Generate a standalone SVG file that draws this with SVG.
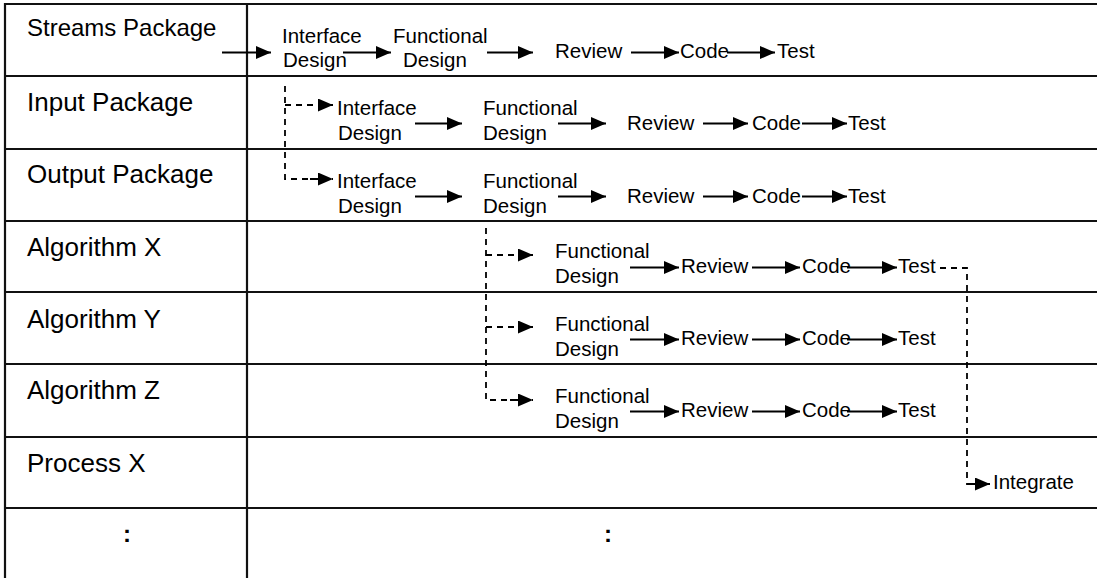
<svg xmlns="http://www.w3.org/2000/svg" width="1097" height="578" viewBox="0 0 1097 578">
<defs>
<style>
.grid{stroke:#111;stroke-width:2.2;fill:none}
.lbl{font-family:"Liberation Sans",Arial,sans-serif;font-size:26px;fill:#000}
.t{font-family:"Liberation Sans",Arial,sans-serif;font-size:20.5px;fill:#000}
.c{stroke:#000;stroke-width:2;fill:none;marker-end:url(#ah)}
.d{stroke:#000;stroke-width:1.8;fill:none;stroke-dasharray:6 5}
.da{stroke:#000;stroke-width:1.8;fill:none;stroke-dasharray:6 5;marker-end:url(#ah)}
.colon{font-family:"Liberation Sans",Arial,sans-serif;font-size:24px;font-weight:bold;fill:#000;text-anchor:middle}
</style>
<marker id="ah" markerUnits="userSpaceOnUse" markerWidth="16" markerHeight="14" refX="15" refY="6.5" orient="auto">
<path d="M0,0 L15,6.5 L0,13 Z" fill="#000"/>
</marker>
</defs>
<rect width="1097" height="578" fill="#fff"/>
<g id="grid" class="grid">
<path d="M4,4 H1097 M4,76 H1097 M4,149 H1097 M4,221 H1097 M4,292 H1097 M4,364 H1097 M4,437 H1097 M4,508 H1097"/>
<path d="M5,3 V578 M247,3 V578"/>
</g>
<g id="row-labels">
<g id="lbl-streams"><text class="lbl" x="27" y="36" style="font-size:24px">Streams Package</text></g>
<g id="lbl-input"><text class="lbl" x="27" y="111">Input Package</text></g>
<g id="lbl-output"><text class="lbl" x="27" y="183">Output Package</text></g>
<g id="lbl-algx"><text class="lbl" x="27" y="256">Algorithm X</text></g>
<g id="lbl-algy"><text class="lbl" x="27" y="328">Algorithm Y</text></g>
<g id="lbl-algz"><text class="lbl" x="27" y="399">Algorithm Z</text></g>
<g id="lbl-procx"><text class="lbl" x="27" y="472">Process X</text></g>
<g id="lbl-more"><text class="colon" x="127" y="542">:</text></g>
<g id="more"><text class="colon" x="608" y="542">:</text></g>
</g>
<g id="connectors">
<path class="c" d="M222,52.5 H271"/>
<path class="c" d="M343,52.5 H391"/>
<path class="c" d="M487,52.5 H533"/>
<path class="c" d="M631,52.5 H679"/>
<path class="c" d="M727,52.5 H775"/>
<path class="d" d="M285,86 V179 H318"/>
<path class="da" d="M285,105 H333"/>
<path class="da" d="M310,179 H333"/>
<path class="c" d="M415,123.5 H462"/>
<path class="c" d="M558,123.5 H606"/>
<path class="c" d="M703,123.5 H748"/>
<path class="c" d="M802,123.5 H847"/>
<path class="c" d="M415,196.5 H462"/>
<path class="c" d="M558,196.5 H606"/>
<path class="c" d="M703,196.5 H748"/>
<path class="c" d="M802,196.5 H847"/>
<path class="d" d="M486,228 V400 H518"/>
<path class="da" d="M486,255 H533"/>
<path class="da" d="M486,327 H533"/>
<path class="da" d="M510,400 H533"/>
<path class="c" d="M630,267.5 H679"/>
<path class="c" d="M752,267.5 H800"/>
<path class="c" d="M847,267.5 H897"/>
<path class="c" d="M630,339.5 H679"/>
<path class="c" d="M752,339.5 H800"/>
<path class="c" d="M847,339.5 H897"/>
<path class="c" d="M630,411.5 H679"/>
<path class="c" d="M752,411.5 H800"/>
<path class="c" d="M847,411.5 H897"/>
<path class="d" d="M940,268 H967 V484 H975"/>
<path class="c" d="M972,484 H990"/>
</g>
<g id="streams-steps">
<g id="s-if"><text class="t" x="282" y="43">Interface</text><text class="t" x="283" y="67">Design</text></g>
<g id="s-fd"><text class="t" x="393" y="43">Functional</text><text class="t" x="403" y="67">Design</text></g>
<g id="s-rv"><text class="t" x="555" y="58">Review</text></g>
<g id="s-cd"><text class="t" x="680" y="58">Code</text></g>
<g id="s-ts"><text class="t" x="777" y="58">Test</text></g>
</g>
<g id="input-steps">
<g id="i-if"><text class="t" x="337" y="115">Interface</text><text class="t" x="338" y="140">Design</text></g>
<g id="i-fd"><text class="t" x="483" y="115">Functional</text><text class="t" x="483" y="140">Design</text></g>
<g id="i-rv"><text class="t" x="627" y="130">Review</text></g>
<g id="i-cd"><text class="t" x="752" y="130">Code</text></g>
<g id="i-ts"><text class="t" x="848" y="130">Test</text></g>
</g>
<g id="output-steps">
<g id="o-if"><text class="t" x="337" y="188">Interface</text><text class="t" x="338" y="213">Design</text></g>
<g id="o-fd"><text class="t" x="483" y="188">Functional</text><text class="t" x="483" y="213">Design</text></g>
<g id="o-rv"><text class="t" x="627" y="203">Review</text></g>
<g id="o-cd"><text class="t" x="752" y="203">Code</text></g>
<g id="o-ts"><text class="t" x="848" y="203">Test</text></g>
</g>
<g id="algx-steps">
<g id="x-fd"><text class="t" x="555" y="258">Functional</text><text class="t" x="555" y="283">Design</text></g>
<g id="x-rv"><text class="t" x="681" y="273">Review</text></g>
<g id="x-cd"><text class="t" x="802" y="273">Code</text></g>
<g id="x-ts"><text class="t" x="898" y="273">Test</text></g>
</g>
<g id="algy-steps">
<g id="y-fd"><text class="t" x="555" y="331">Functional</text><text class="t" x="555" y="356">Design</text></g>
<g id="y-rv"><text class="t" x="681" y="345">Review</text></g>
<g id="y-cd"><text class="t" x="802" y="345">Code</text></g>
<g id="y-ts"><text class="t" x="898" y="345">Test</text></g>
</g>
<g id="algz-steps">
<g id="z-fd"><text class="t" x="555" y="403">Functional</text><text class="t" x="555" y="428">Design</text></g>
<g id="z-rv"><text class="t" x="681" y="417">Review</text></g>
<g id="z-cd"><text class="t" x="802" y="417">Code</text></g>
<g id="z-ts"><text class="t" x="898" y="417">Test</text></g>
</g>
<g id="integrate"><text class="t" x="993" y="489">Integrate</text></g>
</svg>
